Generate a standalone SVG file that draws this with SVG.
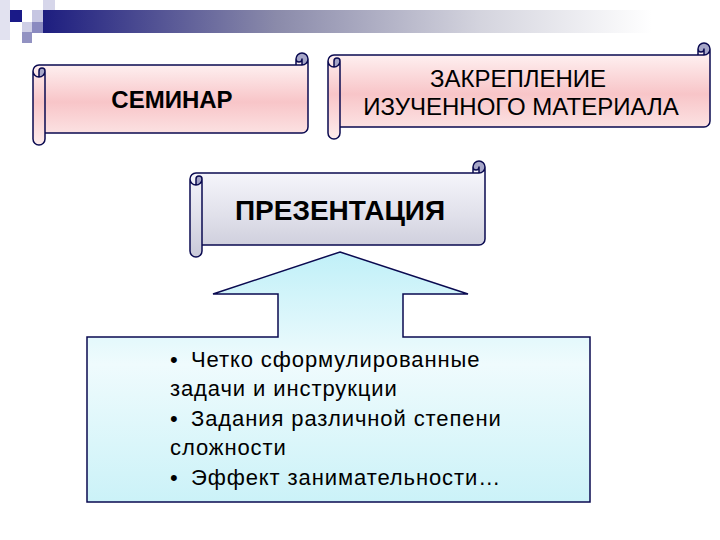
<svg xmlns="http://www.w3.org/2000/svg" width="720" height="540" viewBox="0 0 720 540">
<defs>
<linearGradient id="bar" x1="0" y1="0" x2="1" y2="0">
<stop offset="0" stop-color="#1a1a7e"/>
<stop offset="0.35" stop-color="#8a8aaa"/>
<stop offset="0.65" stop-color="#d4d4de"/>
<stop offset="0.9" stop-color="#ffffff"/>
</linearGradient>
<linearGradient id="pink" x1="0" y1="0" x2="0" y2="1">
<stop offset="0" stop-color="#fff6f6"/>
<stop offset="0.5" stop-color="#f8c5c8"/>
<stop offset="1" stop-color="#fdecec"/>
</linearGradient>
<linearGradient id="gray" x1="0" y1="0" x2="0" y2="1">
<stop offset="0" stop-color="#f8f8fd"/>
<stop offset="0.55" stop-color="#e0e0ea"/>
<stop offset="1" stop-color="#c9c9d8"/>
</linearGradient>
<linearGradient id="cyan" gradientUnits="userSpaceOnUse" x1="0" y1="252" x2="0" y2="502">
<stop offset="0" stop-color="#c0f0f8"/>
<stop offset="0.45" stop-color="#effbfd"/>
<stop offset="1" stop-color="#cbf2f8"/>
</linearGradient>
<style>
.stroke{fill:none;stroke:#0a0a50;stroke-width:1.5;stroke-linejoin:round}
.dark{fill:#a6a6c8}
.t{font-family:"Liberation Sans",Arial,sans-serif;fill:#000}
.b{font-weight:bold}
.li{font-size:22px;letter-spacing:0.9px}
</style>
</defs>

<g id="header">
<rect x="0" y="0" width="10" height="40" fill="#e2e2f0"/>
<rect x="36" y="10" width="684" height="23" fill="url(#bar)"/>
<rect x="10" y="10" width="12" height="12" fill="#1a1a88"/>
<rect x="32" y="10" width="11" height="12" fill="#c6c6e2"/>
<rect x="43" y="0" width="12" height="10" fill="#d6d6ea"/>
<rect x="22" y="22" width="10" height="10" fill="#cfcfe6"/>
<rect x="32" y="22" width="11" height="11" fill="#8a8ac0"/>
<rect x="22" y="32" width="10" height="11" fill="#9292c2"/>
</g>

<g id="seminar" transform="translate(33,53)">
<path fill="url(#pink)" d="M275,6 A6 6 0 0 1 269,12 L269,6 A3 3 0 0 1 263,6 L263,12 L6,12 A6 6 0 0 0 0,18 L0,86 A6 6 0 0 0 12,86 L12,80 L269,80 A6 6 0 0 0 275,74 Z"/>
<path class="dark" d="M6,24 A6 6 0 0 0 12,18 A3 3 0 0 0 6,18 Z M269,12 A6 6 0 1 0 263,6 A3 3 0 0 0 269,6 Z"/>
<path class="stroke" d="M0,18 A6 6 0 0 1 6,12 L263,12 L263,6 A6 6 0 0 1 275,6 L275,74 A6 6 0 0 1 269,80 L12,80 L12,86 A6 6 0 0 1 0,86 Z M263,12 L269,12 A6 6 0 0 0 275,6 M269,12 L269,6 A3 3 0 0 1 263,6 M6,24 L6,18 A3 3 0 0 1 12,18 A6 6 0 0 1 0,18 M12,18 L12,80"/>
<text class="t b" x="139" y="55" font-size="24" text-anchor="middle">СЕМИНАР</text>
</g>

<g id="zakreplenie" transform="translate(328,43)">
<path fill="url(#pink)" d="M382,6 A6 6 0 0 1 376,12 L376,6 A3 3 0 0 1 370,6 L370,12 L6,12 A6 6 0 0 0 0,18 L0,90 A6 6 0 0 0 12,90 L12,84 L376,84 A6 6 0 0 0 382,78 Z"/>
<path class="dark" d="M6,24 A6 6 0 0 0 12,18 A3 3 0 0 0 6,18 Z M376,12 A6 6 0 1 0 370,6 A3 3 0 0 0 376,6 Z"/>
<path class="stroke" d="M0,18 A6 6 0 0 1 6,12 L370,12 L370,6 A6 6 0 0 1 382,6 L382,78 A6 6 0 0 1 376,84 L12,84 L12,90 A6 6 0 0 1 0,90 Z M370,12 L376,12 A6 6 0 0 0 382,6 M376,12 L376,6 A3 3 0 0 1 370,6 M6,24 L6,18 A3 3 0 0 1 12,18 A6 6 0 0 1 0,18 M12,18 L12,84"/>
<text class="t" x="190" y="44" font-size="24" text-anchor="middle">ЗАКРЕПЛЕНИЕ</text>
<text class="t" x="193" y="72" font-size="24" text-anchor="middle">ИЗУЧЕННОГО МАТЕРИАЛА</text>
</g>

<g id="prezentatsiya" transform="translate(190,161)">
<path fill="url(#gray)" d="M295,6 A6 6 0 0 1 289,12 L289,6 A3 3 0 0 1 283,6 L283,12 L6,12 A6 6 0 0 0 0,18 L0,90 A6 6 0 0 0 12,90 L12,84 L289,84 A6 6 0 0 0 295,78 Z"/>
<path class="dark" d="M6,24 A6 6 0 0 0 12,18 A3 3 0 0 0 6,18 Z M289,12 A6 6 0 1 0 283,6 A3 3 0 0 0 289,6 Z"/>
<path class="stroke" d="M0,18 A6 6 0 0 1 6,12 L283,12 L283,6 A6 6 0 0 1 295,6 L295,78 A6 6 0 0 1 289,84 L12,84 L12,90 A6 6 0 0 1 0,90 Z M283,12 L289,12 A6 6 0 0 0 295,6 M289,12 L289,6 A3 3 0 0 1 283,6 M6,24 L6,18 A3 3 0 0 1 12,18 A6 6 0 0 1 0,18 M12,18 L12,84"/>
<text class="t b" x="150" y="59" font-size="28" text-anchor="middle">ПРЕЗЕНТАЦИЯ</text>
</g>

<g id="callout">
<path d="M340,252 L468,294 L403,294 L403,337 L590,337 L590,502 L87,502 L87,337 L278,337 L278,294 L213,294 Z" fill="url(#cyan)" stroke="#0a0a50" stroke-width="1.5" stroke-linejoin="miter"/>
<text class="t li">
<tspan x="170" y="367">•</tspan><tspan x="191" y="367">Четко сформулированные</tspan>
<tspan x="170" y="396">задачи и инструкции</tspan>
<tspan x="170" y="426">•</tspan><tspan x="191" y="426">Задания различной степени</tspan>
<tspan x="170" y="455">сложности</tspan>
<tspan x="170" y="485">•</tspan><tspan x="191" y="485">Эффект занимательности…</tspan>
</text>
</g>

<g id="connectors"></g>
</svg>
